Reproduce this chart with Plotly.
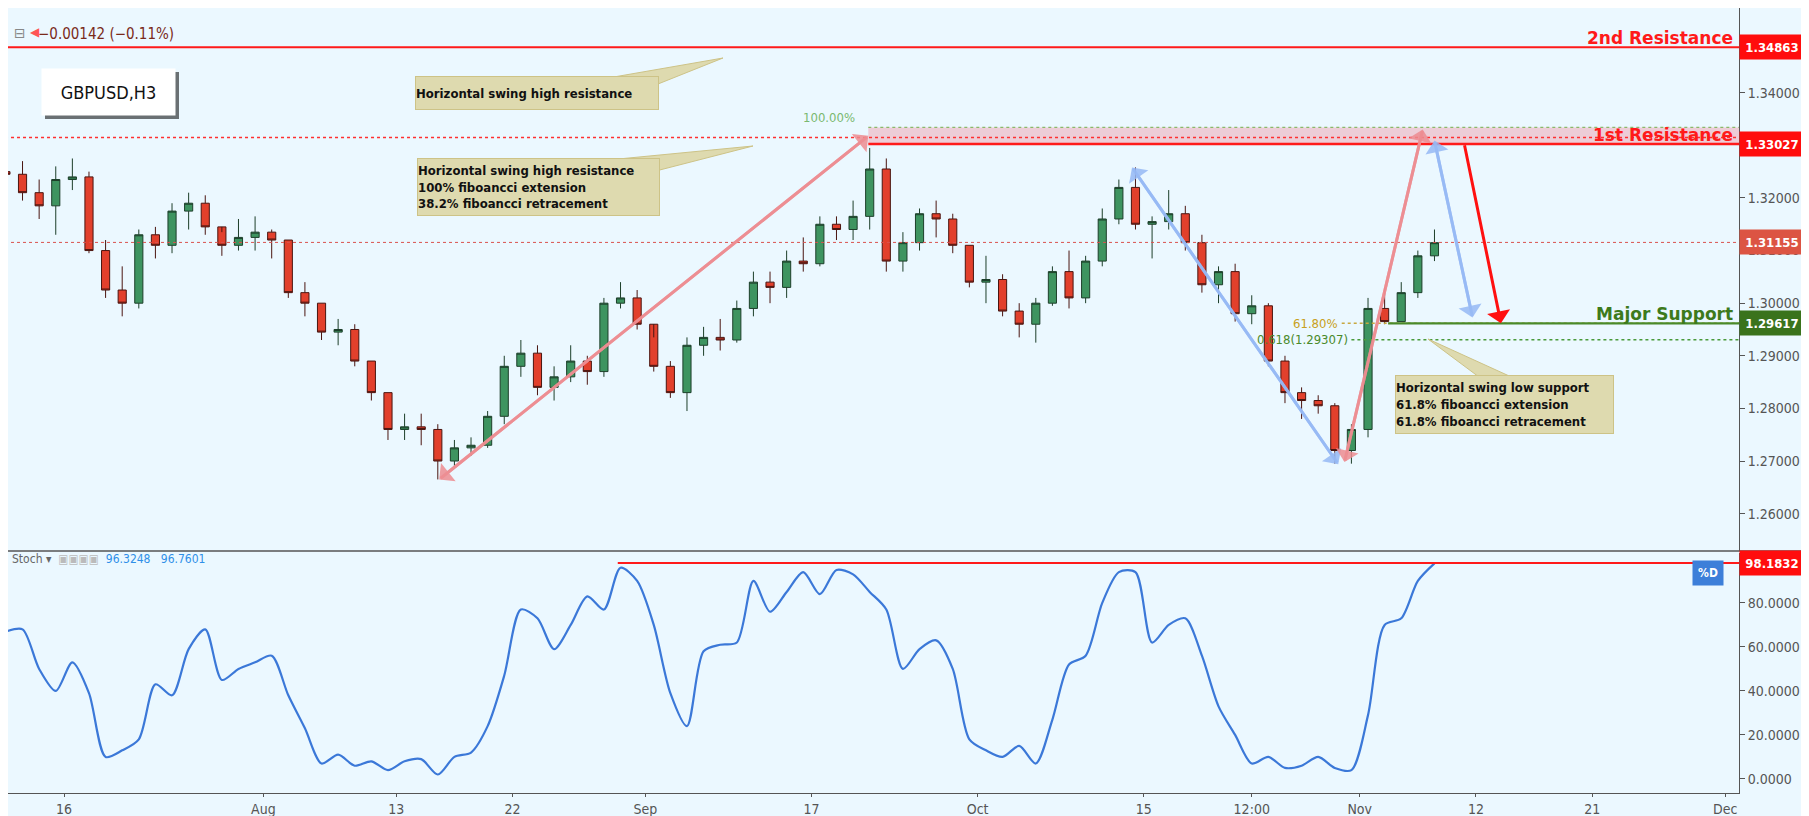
import pandas as pd
import plotly.graph_objects as go

# ---------------- data (daily bars) ----------------
dates = pd.bdate_range("2018-07-10", "2018-11-07") + pd.Timedelta(hours=12)
close = [1.3245,1.3210,1.3185,1.3235,
         1.3240,1.3100,1.3025,1.3000,1.3130,
         1.3110,1.3175,1.3190,1.3145,1.3110,
         1.3125,1.3135,1.3120,1.3020,1.3000,
         1.2945,1.2950,1.2890,1.2830,1.2760,
         1.2765,1.2760,1.2700,1.2725,1.2730,
         1.2785,1.2880,1.2905,1.2840,1.2860,
         1.2890,1.2870,1.3000,1.3010,1.2960,
         1.2880,1.2830,1.2920,1.2935,1.2930,
         1.2990,1.3040,1.3030,1.3080,1.3075,
         1.3150,1.3140,1.3165,1.3255,1.3080,
         1.3115,1.3170,1.3160,1.3110,1.3040,
         1.3045,1.2985,1.2960,1.3000,1.3060,
         1.3010,1.3080,1.3160,1.3220,1.3150,
         1.3155,1.3170,1.3115,1.3035,1.3060,
         1.2980,1.2995,1.2890,1.2830,1.2815,
         1.2805,1.2720,1.2760,1.2990,1.2965,
         1.3020,1.3090,1.3115]
high = [1.3275,1.3270,1.3235,1.3260,
        1.3275,1.3250,1.3120,1.3070,1.3140,
        1.3145,1.3190,1.3210,1.3205,1.3135,
        1.3160,1.3165,1.3140,1.3120,1.3040,
        1.3000,1.2970,1.2960,1.2890,1.2830,
        1.2790,1.2790,1.2770,1.2740,1.2745,
        1.2795,1.2900,1.2930,1.2920,1.2880,
        1.2920,1.2900,1.3010,1.3040,1.3025,
        1.2935,1.2890,1.2935,1.2955,1.2970,
        1.3005,1.3060,1.3060,1.3100,1.3125,
        1.3165,1.3165,1.3195,1.3295,1.3275,
        1.3135,1.3180,1.3195,1.3170,1.3110,
        1.3090,1.3055,1.3000,1.3010,1.3070,
        1.3100,1.3090,1.3180,1.3235,1.3258,
        1.3165,1.3215,1.3185,1.3130,1.3070,
        1.3075,1.3015,1.3000,1.2900,1.2840,
        1.2825,1.2810,1.2770,1.3010,1.3030,
        1.3040,1.3100,1.3140]
low = [1.3225,1.3195,1.3160,1.3130,
       1.3215,1.3095,1.3010,1.2975,1.2990,
       1.3085,1.3095,1.3140,1.3130,1.3090,
       1.3100,1.3100,1.3085,1.3010,1.2975,
       1.2930,1.2920,1.2880,1.2815,1.2740,
       1.2740,1.2730,1.2665,1.2690,1.2710,
       1.2725,1.2770,1.2860,1.2825,1.2815,
       1.2850,1.2845,1.2860,1.2990,1.2950,
       1.2870,1.2820,1.2795,1.2900,1.2910,
       1.2925,1.2975,1.3000,1.3010,1.3060,
       1.3070,1.3120,1.3120,1.3140,1.3060,
       1.3060,1.3100,1.3125,1.3095,1.3030,
       1.3000,1.2975,1.2935,1.2925,1.2995,
       1.2990,1.3000,1.3070,1.3150,1.3140,
       1.3085,1.3140,1.3100,1.3020,1.3000,
       1.2965,1.2960,1.2880,1.2810,1.2780,
       1.2790,1.2695,1.2695,1.2745,1.2960,
       1.2965,1.3010,1.3080]
first_open = 1.3250
stoch = [67,68,50,40,
         53,39,10,13,18,
         43,38,59,68,45,
         50,53,56,38,23,
         7,11,6,8,4,
         8,9,2,10,12,
         24,47,77,73,59,
         70,83,77,96,90,
         70,39,24,58,61,
         62,90,76,85,94,
         84,95,93,85,77,
         50,59,63,50,18,
         13,10,15,7,27,
         52,56,80,94,94,
         62,70,73,56,33,
         20,7,10,5,6,
         10,5,4,29,70,
         73,90,98]

price_ticks = [1.26, 1.27, 1.28, 1.29, 1.30, 1.31, 1.32, 1.34]
stoch_ticks = [0, 20, 40, 60, 80]
date_tickvals = ["2018-07-16","2018-08-01","2018-08-13","2018-08-22","2018-09-03","2018-09-17",
                 "2018-10-01","2018-10-15","2018-10-23 12:00","2018-11-01","2018-11-12","2018-11-21","2018-12-03"]
date_ticktext = ["16","Aug","13","22","Sep","17","Oct","15","12:00","Nov","12","21","Dec"]

levels = {"2nd Resistance": 1.34863, "1st Resistance": 1.33027, "Major Support": 1.29617}
last_price = 1.31155
fib_618 = 1.29307
stoch_level = 98.1832

opens = [first_open] + close[:-1]

BG = "#ebf8ff"
W, H = 1809, 816
PW, PH = 1731, 785  # plot area px

def px(xp):
    return xp / PW

def py(yp):
    return 1 - yp / PH

fig = go.Figure()
fig.add_trace(go.Candlestick(
    x=dates, open=opens, high=high, low=low, close=close,
    increasing=dict(line=dict(color="#1d3f2a", width=1), fillcolor="#3e9460"),
    decreasing=dict(line=dict(color="#4a1510", width=1), fillcolor="#e2402c"),
    whiskerwidth=0, xaxis="x", yaxis="y", showlegend=False, hoverinfo="skip"))
fig.add_trace(go.Scatter(x=dates, y=stoch, mode="lines", line=dict(color="#3b78d8", width=2.2, shape="spline", smoothing=0.8),
                         xaxis="x2", yaxis="y2", showlegend=False, hoverinfo="skip"))

xr = ["2018-07-10 15:00", "2018-12-03 20:00"]
rb = [dict(bounds=["sat", "mon"])]
axfont = dict(family="DejaVu Sans Condensed", size=14, color="#555")
fig.update_layout(
    width=W, height=H, paper_bgcolor=BG, plot_bgcolor=BG,
    margin=dict(l=0, r=W - PW, t=0, b=H - PH),
    xaxis=dict(type="date", range=xr, rangebreaks=rb, domain=[0, 1], anchor="y", showticklabels=False,
               showgrid=False, zeroline=False, rangeslider=dict(visible=False), matches="x2"),
    xaxis2=dict(type="date", range=xr, rangebreaks=rb, domain=[0, 1], anchor="y2", showgrid=False,
                tickvals=date_tickvals, ticktext=date_ticktext, ticks="outside", ticklen=3, tickcolor="#555",
                showline=True, linecolor="#555", tickfont=axfont),
    yaxis=dict(domain=[1 - 543 / PH, 1], range=[1.2529, 1.3561], side="right", tickvals=price_ticks,
               tickformat=".5f", showgrid=False, zeroline=False, ticks="outside", ticklen=5, tickcolor="#555",
               showline=True, linecolor="#555", tickfont=axfont),
    yaxis2=dict(domain=[0, 1 - 545 / PH], range=[-6.4, 102.7], side="right", tickvals=stoch_ticks,
                tickformat=".4f", showgrid=False, zeroline=False, ticks="outside", ticklen=5, tickcolor="#555",
                showline=True, linecolor="#555", tickfont=axfont),
)

shapes = []
END = "2018-12-05"
START = "2018-07-09"
shapes.append(dict(type="line", xref="paper", yref="paper", x0=0, x1=1.04, y0=py(543), y1=py(543),
                   line=dict(color="#555", width=1.5)))
shapes.append(dict(type="line", xref="x", yref="y", x0=START, x1=END, y0=levels["2nd Resistance"],
                   y1=levels["2nd Resistance"], line=dict(color="#ff1a1a", width=2)))
shapes.append(dict(type="rect", xref="x", yref="y", x0="2018-09-20 10:00", x1=END, y0=levels["1st Resistance"],
                   y1=1.3334, fillcolor="rgba(240,140,155,0.4)", line=dict(width=0)))
shapes.append(dict(type="line", xref="x", yref="y", x0="2018-09-20 10:00", x1=END, y0=1.3334, y1=1.3334,
                   line=dict(color="#8bb86a", width=1.2, dash="dot")))
shapes.append(dict(type="line", xref="x", yref="y", x0="2018-09-20 10:00", x1=END, y0=levels["1st Resistance"],
                   y1=levels["1st Resistance"], line=dict(color="#ff1a1a", width=2.5)))
shapes.append(dict(type="line", xref="x", yref="y", x0=START, x1=END, y0=1.3315, y1=1.3315,
                   line=dict(color="#ff3030", width=1.5, dash="dot")))
shapes.append(dict(type="line", xref="x", yref="y", x0=START, x1=END, y0=last_price, y1=last_price,
                   line=dict(color="#d9534f", width=1, dash="dot")))
shapes.append(dict(type="line", xref="x", yref="y", x0="2018-10-30 22:00", x1=END, y0=levels["Major Support"],
                   y1=levels["Major Support"], line=dict(color="#c8a840", width=1.5, dash="dot")))
shapes.append(dict(type="line", xref="x", yref="y", x0="2018-11-02 17:00", x1=END, y0=levels["Major Support"],
                   y1=levels["Major Support"], line=dict(color="#4a8a2a", width=2.2)))
shapes.append(dict(type="line", xref="x", yref="y", x0="2018-10-31 12:00", x1=END, y0=fib_618, y1=fib_618,
                   line=dict(color="#4a9a3a", width=1.5, dash="dot")))
shapes.append(dict(type="line", xref="x2", yref="y2", x0="2018-08-30 08:00", x1=END, y0=stoch_level, y1=stoch_level,
                   line=dict(color="#ff1a1a", width=2)))

TAN = "rgb(222,218,175)"
TANL = "rgb(205,195,135)"
def tri(p):
    d = "M " + " L ".join(f"{px(a)},{py(b)}" for a, b in p) + " Z"
    return dict(type="path", xref="paper", yref="paper", path=d, fillcolor=TAN, line=dict(color=TANL, width=1))
shapes.append(tri([(600, 70), (715, 50), (640, 80)]))
shapes.append(tri([(600, 152), (745, 138), (640, 165)]))
shapes.append(tri([(1475, 372), (1420, 331), (1510, 372)]))
shapes.append(dict(type="rect", xref="paper", yref="paper", x0=px(37), x1=px(171), y0=py(111), y1=py(64),
                   fillcolor="rgba(0,0,0,0.55)", line=dict(width=0)))
fig.update_layout(shapes=shapes)

ann = []
def box(x0, y0, x1, y1, text, size=13):
    ann.append(dict(xref="paper", yref="paper", x=px((x0 + x1) / 2), y=py((y0 + y1) / 2), text=text, showarrow=False,
                    bgcolor=TAN, bordercolor=TANL, borderwidth=1, borderpad=0, align="left",
                    font=dict(family="DejaVu Sans Condensed", size=size, color="#111"),
                    width=x1 - x0, height=y1 - y0, xanchor="center", yanchor="middle"))
box(408, 69, 650, 101, "<b>Horizontal swing high resistance</b>")
box(410, 151, 651, 207, "<b>Horizontal swing high resistance<br>100% fiboancci extension<br>38.2% fiboancci retracement</b>")
box(1388, 368, 1605, 425, "<b>Horizontal swing low support<br>61.8% fiboancci extension<br>61.8% fiboancci retracement</b>")
ann.append(dict(xref="paper", yref="paper", x=px(100), y=py(84), xanchor="center", yanchor="middle",
                text="GBPUSD,H3", showarrow=False, bgcolor="white",
                width=133, height=46, borderpad=0, font=dict(family="DejaVu Sans Condensed", size=18, color="#111")))
ann.append(dict(xref="paper", yref="paper", x=px(28), y=py(15), xanchor="left", text="−0.00142 (−0.11%)",
                showarrow=False, font=dict(family="DejaVu Sans Condensed", size=15, color="#7a2a1a")))
ann.append(dict(xref="paper", yref="paper", x=px(4), y=py(15), xanchor="left", text="⊟", showarrow=False,
                font=dict(family="DejaVu Sans", size=14, color="#888")))
ann.append(dict(xref="paper", yref="paper", x=px(20), y=py(15), xanchor="left", text="◀", showarrow=False,
                font=dict(family="DejaVu Sans", size=12, color="#f55")))
ann.append(dict(xref="paper", yref="paper", x=px(2), y=py(560), xanchor="left",
                text="<span style='color:#666'>Stoch ▾</span>  <span style='color:#bbb'>▣▣▣▣</span>  <span style='color:#2f8fe8'>96.3248   96.7601</span>",
                showarrow=False, font=dict(family="DejaVu Sans Condensed", size=12)))

for name, val, col in [("2nd Resistance", levels["2nd Resistance"], "#ff1a1a"),
                       ("1st Resistance", levels["1st Resistance"], "#ff1a1a"),
                       ("Major Support", levels["Major Support"], "#3d7a1c")]:
    ann.append(dict(xref="paper", yref="y", x=px(1727), y=val, xanchor="right", yanchor="bottom", text=f"<b>{name}</b>",
                    showarrow=False, yshift=-3, font=dict(family="DejaVu Sans", size=17, color=col)))
for val, col, yr in [(levels["2nd Resistance"], "#ff0d0d", "y"), (levels["1st Resistance"], "#ff0d0d", "y"),
                     (last_price, "#dc5443", "y"), (levels["Major Support"], "#3a731c", "y"),
                     (stoch_level, "#ff0d0d", "y2")]:
    ann.append(dict(xref="paper", yref=yr, x=1.0, y=val, xanchor="left", xshift=0,
                    text=f"<b>{val:.5f}</b>" if yr == "y" else f"<b>{val:.4f}</b>", showarrow=False,
                    bgcolor=col, width=64, height=24, borderpad=0,
                    font=dict(family="DejaVu Sans Condensed", size=13, color="white")))
ann.append(dict(xref="paper", yref="paper", x=px(1716), y=py(578), text="<b>%D</b>", showarrow=False, bgcolor="#3d7fd9",
                width=28, height=22, font=dict(family="DejaVu Sans Condensed", size=12, color="white")))
ann.append(dict(xref="x", yref="y", x="2018-09-19 18:00", y=1.3334, xanchor="right", yanchor="bottom", text="100.00%",
                showarrow=False, font=dict(family="DejaVu Sans Condensed", size=13, color="#7ab870")))
ann.append(dict(xref="x", yref="y", x="2018-10-30 20:00", y=levels["Major Support"], xanchor="right", yanchor="middle",
                text="61.80%", showarrow=False, font=dict(family="DejaVu Sans Condensed", size=13, color="#c8a020")))
ann.append(dict(xref="x", yref="y", x="2018-10-31 10:00", y=fib_618, xanchor="right", yanchor="middle",
                text="0.618(1.29307)", showarrow=False, font=dict(family="DejaVu Sans Condensed", size=13, color="#4a8a2a")))

def arrow(x0, y0, x1, y1, col, w=3, both=False):
    ann.append(dict(xref="x", yref="y", axref="x", ayref="y", x=x1, y=y1, ax=x0, ay=y0, showarrow=True,
                    arrowhead=1, arrowsize=1.3, arrowwidth=w, arrowcolor=col, text=""))
    if both:
        ann.append(dict(xref="x", yref="y", axref="x", ayref="y", x=x0, y=y0, ax=x1, ay=y1, showarrow=True,
                        arrowhead=1, arrowsize=1.3, arrowwidth=w, arrowcolor=col, text=""))
PINK = "rgba(238,140,145,0.85)"
BLUE = "rgba(150,185,245,0.85)"
arrow("2018-08-15 14:00", 1.2665, "2018-09-20 10:00", 1.3318, PINK, both=True)
arrow("2018-10-12 07:00", 1.3258, "2018-10-30 17:00", 1.2694, BLUE, both=True)
arrow("2018-10-31 02:00", 1.2698, "2018-11-06 19:00", 1.3330, PINK, both=True)
arrow("2018-11-07 12:00", 1.3309, "2018-11-09 19:00", 1.2973, BLUE, both=True)
arrow("2018-11-09 07:00", 1.3303, "2018-11-13 12:00", 1.2962, "#ff1010", w=3)
fig.update_layout(annotations=ann)

fig.write_html("out.html")
